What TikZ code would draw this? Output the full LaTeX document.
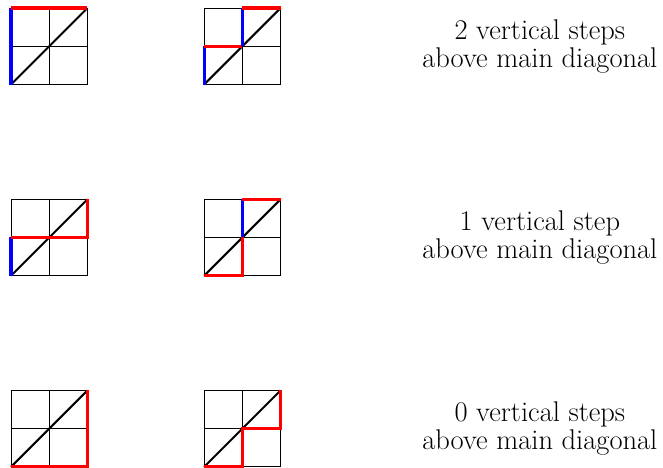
\documentclass[tikz,border=0pt]{standalone}
\usepackage{tikz}
\usetikzlibrary{positioning}
\tikzset{
    cell_grid/.style={line width=0.75pt},
    main_diag/.style={line width=1.5pt},
    vert_blue/.style={blue, line width=2.4pt},
    step_red/.style={red, line width=2.4pt},
    label_text/.style={align=center, font=\fontsize{21.2}{20.6}\selectfont}
}

\begin{document}
\begin{tikzpicture}
            \useasboundingbox (-0.288, -0.026) rectangle (17.05, 12.21);

            % Row 1: two vertical steps above the diagonal
            \draw[cell_grid] (0,10) grid (2,12);
            \draw[main_diag] (0,10) -- (2,12);
            \draw[vert_blue] (0,10) -- (0,12);
            \draw[step_red] (0,12) -- (2,12);

            \begin{scope}[xshift=5.05cm]
            \draw[cell_grid] (0,10) grid (2,12);
            \draw[main_diag] (0,10) -- (2,12);
            \draw[vert_blue] (0,10) -- (0,11);
            \draw[step_red] (0,11) -- (1,11);
            \draw[vert_blue] (1,11) -- (1,12);
            \draw[step_red] (1,12) -- (2,12);
            \end{scope}

            \node (two) [label_text] at (13.83, 11) {2 vertical steps\\above main diagonal};

            % Row 2: one vertical step above the diagonal
            \draw[cell_grid] (0,5) grid (2,7);
            \draw[main_diag] (0,5) -- (2,7);
            \draw[vert_blue] (0,5) -- (0,6);
            \draw[step_red] (0,6) -- (2,6) -- (2,7);

            \begin{scope}[xshift=5.05cm]
            \draw[cell_grid] (0,5) grid (2,7);
            \draw[main_diag] (0,5) -- (2,7);
            \draw[step_red] (0,5) -- (1,5) -- (1,6);
            \draw[vert_blue] (1,6) -- (1,7);
            \draw[step_red] (1,7) -- (2,7);
            \end{scope}

            \node (one) [label_text] at (13.83, 6) {1 vertical step\\above main diagonal};

            % Row 3: no vertical step above the diagonal
            \draw[cell_grid] (0,0) grid (2,2);
            \draw[main_diag] (0,0) -- (2,2);
            \draw[step_red] (0,0) -- (2,0) -- (2,2);

            \begin{scope}[xshift=5.05cm]
            \draw[cell_grid] (0,0) grid (2,2);
            \draw[main_diag] (0,0) -- (2,2);
            \draw[step_red] (0,0) -- (1,0) -- (1,1) -- (2,1) -- (2,2);
            \end{scope}

            \node (zero) [label_text] at (13.83, 1) {0 vertical steps\\above main diagonal};
\end{tikzpicture}
\end{document}
